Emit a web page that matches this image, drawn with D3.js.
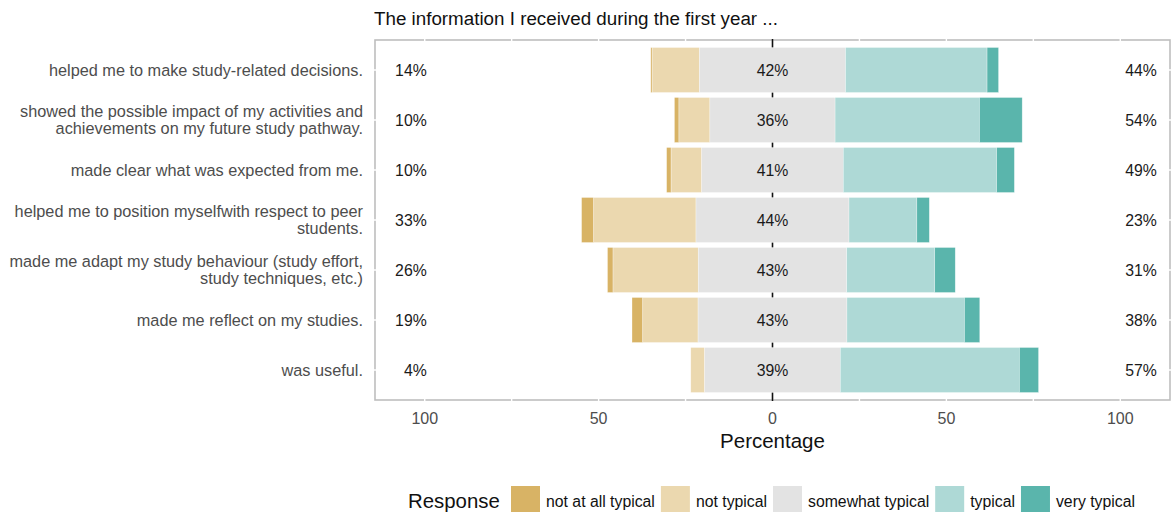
<!DOCTYPE html>
<html>
<head>
<meta charset="utf-8">
<script src="https://cdn.jsdelivr.net/npm/d3@7"></script>
<style>
  body { margin: 0; background: #fff; }
  text { font-family: "Liberation Sans", Arial, sans-serif; }
</style>
</head>
<body>
<div id="chart"></div>
<script>
// items, top to bottom
const items = [
  "helped me to make study-related decisions.",
  "showed the possible impact of my activities and\nachievements on my future study pathway.",
  "made clear what was expected from me.",
  "helped me to position myselfwith respect to peer\nstudents.",
  "made me adapt my study behaviour (study effort,\nstudy techniques, etc.)",
  "made me reflect on my studies.",
  "was useful."
];
const levels = ["not at all typical", "not typical", "somewhat typical", "typical", "very typical"];
const colors = ["#d8b365", "#ebd8af", "#e3e3e3", "#aed9d6", "#5ab5ac"];

// percentages per level, one array per level
const notAtAll   = [0.4, 1.3, 1.3, 3.5, 1.6, 3.1, 0];
const notTypical = [13.6, 8.9, 8.8, 29.4, 24.5, 15.9, 4.0];
const somewhat   = [42, 36, 40.7, 44, 42.7, 42.8, 39];
const typical    = [40.7, 41.5, 44.1, 19.5, 25.3, 33.8, 51.5];
const veryTyp    = [3.3, 12.3, 5.1, 3.6, 5.9, 4.4, 5.5];

const lowLabels  = ["14%", "10%", "10%", "33%", "26%", "19%", "4%"];
const midLabels  = ["42%", "36%", "41%", "44%", "43%", "43%", "39%"];
const highLabels = ["44%", "54%", "49%", "23%", "31%", "38%", "57%"];

const xTicks = [-100, -50, 0, 50, 100];
const gridX = [-100, -75, -50, -25, 0, 25, 50, 75, 100];

const W = 1173, H = 512;
const panel = {left: 375, right: 1170, top: 40, bottom: 400};

const svg = d3.select("#chart").append("svg")
  .attr("width", W).attr("height", H);

const x = d3.scaleLinear().domain([-114.3, 114.3]).range([panel.left, panel.right]);
const y = d3.scaleBand().domain(items).range([panel.top, panel.bottom])
  .paddingInner(0.1).paddingOuter(0.15);

// panel border
svg.append("rect")
  .attr("x", panel.left).attr("y", panel.top)
  .attr("width", panel.right - panel.left).attr("height", panel.bottom - panel.top)
  .attr("fill", "#fff").attr("stroke", "#bebebe").attr("stroke-width", 1.6);

// white grid lines (they cut the border)
svg.selectAll(".gx").data(gridX).enter().append("line")
  .attr("x1", d => x(d)).attr("x2", d => x(d))
  .attr("y1", panel.top - 1).attr("y2", panel.bottom + 1)
  .attr("stroke", "#fff").attr("stroke-width", 1.4);
svg.selectAll(".gy").data(items).enter().append("line")
  .attr("y1", d => y(d) + y.bandwidth() / 2).attr("y2", d => y(d) + y.bandwidth() / 2)
  .attr("x1", panel.left - 1).attr("x2", panel.right + 1)
  .attr("stroke", "#fff").attr("stroke-width", 1.4);

// centre line
svg.append("line")
  .attr("x1", x(0)).attr("x2", x(0))
  .attr("y1", panel.top - 1).attr("y2", panel.bottom + 1)
  .attr("stroke", "#111").attr("stroke-width", 1.6);

// segments
const series = [notAtAll, notTypical, somewhat, typical, veryTyp];
const segs = [];
items.forEach(function (item, i) {
  let start = -(series[0][i] + series[1][i] + series[2][i] / 2);
  series.forEach(function (s, k) {
    segs.push({item: item, k: k, x0: start, x1: start + s[i]});
    start += s[i];
  });
});

svg.append("g").selectAll("rect").data(segs.filter(d => d.x1 > d.x0)).enter().append("rect")
  .attr("x", d => x(d.x0))
  .attr("width", d => x(d.x1) - x(d.x0))
  .attr("y", d => y(d.item))
  .attr("height", y.bandwidth())
  .attr("fill", d => colors[d.k])
  .attr("stroke", "#fff").attr("stroke-opacity", 0.5).attr("stroke-width", 0.6);

// percentage labels
const lab = svg.append("g").attr("font-size", 15.8).attr("fill", "#1a1a1a");
items.forEach(function (item, i) {
  const cy = y(item) + y.bandwidth() / 2 + 5.5;
  lab.append("text").attr("x", x(-100) + 2).attr("y", cy)
    .attr("text-anchor", "end").text(lowLabels[i]);
  lab.append("text").attr("x", x(0)).attr("y", cy)
    .attr("text-anchor", "middle").text(midLabels[i]);
  lab.append("text").attr("x", x(100) + 5).attr("y", cy)
    .attr("text-anchor", "start").text(highLabels[i]);
});

// y axis labels
const yl = svg.append("g").attr("font-size", 16.3).attr("fill", "#4d4d4d");
items.forEach(function (item) {
  const lines = item.split("\n");
  const cy = y(item) + y.bandwidth() / 2;
  const lh = 17.5;
  lines.forEach(function (ln, j) {
    yl.append("text")
      .attr("x", 363)
      .attr("y", cy + 5.5 + (j - (lines.length - 1) / 2) * lh)
      .attr("text-anchor", "end")
      .text(ln);
  });
});

// x axis tick labels
svg.append("g").selectAll("text").data(xTicks).enter().append("text")
  .attr("x", d => x(d)).attr("y", 424)
  .attr("text-anchor", "middle").attr("font-size", 16).attr("fill", "#4d4d4d")
  .text(d => Math.abs(d));

svg.append("text")
  .attr("x", x(0)).attr("y", 448)
  .attr("text-anchor", "middle").attr("font-size", 20.5).attr("fill", "#111")
  .text("Percentage");

// title
svg.append("text")
  .attr("x", panel.left - 1).attr("y", 25)
  .attr("font-size", 18.8).attr("fill", "#111")
  .text("The information I received during the first year ...");

// legend
const lg = svg.append("g");
lg.append("text").attr("x", 408).attr("y", 508)
  .attr("font-size", 20.4).attr("fill", "#111").text("Response");
let lx = 511;
levels.forEach(function (lv, k) {
  lg.append("rect").attr("x", lx).attr("y", 486)
    .attr("width", 29).attr("height", 28).attr("fill", colors[k]);
  const t = lg.append("text").attr("x", lx + 35).attr("y", 507)
    .attr("font-size", 15.8).attr("fill", "#111").text(lv);
  lx = lx + 35 + t.node().getComputedTextLength() + 6;
});
</script>
</body>
</html>
